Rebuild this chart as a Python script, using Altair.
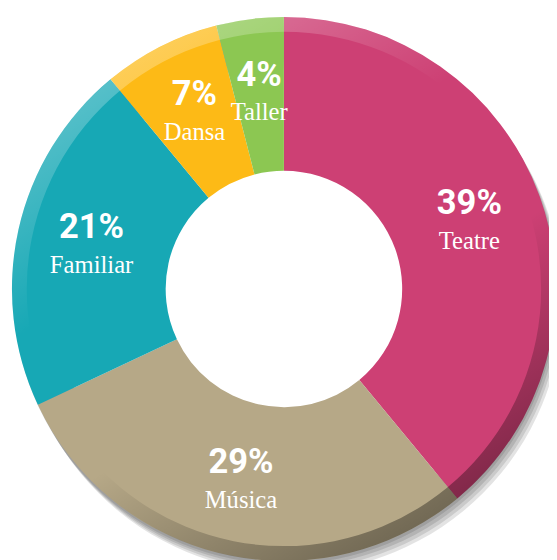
import altair as alt
import pandas as pd

categories = ["Teatre", "Música", "Familiar", "Dansa", "Taller"]
values = [39, 29, 21, 7, 4]
pct_labels = ["39%", "29%", "21%", "7%", "4%"]
colors = ["#CD4074", "#B6A887", "#17A8B5", "#FDBA16", "#8CC752"]

df = pd.DataFrame({
    "cat": categories,
    "value": values,
    "pct": pct_labels,
    "order": list(range(len(categories))),
})

CX, CY = 280, 281
R_OUT, R_IN = 276, 120

base = alt.Chart(df).encode(
    theta=alt.Theta("value:Q", stack=True),
    order=alt.Order("order:Q"),
)

ring_df = pd.DataFrame({"a": [0]})

shadows = [
    alt.Chart(ring_df).mark_arc(
        x=CX + ox, y=CY + oy, radius=R_OUT, radius2=R_OUT - 40,
        theta=0, theta2=6.2832, fill="#000000", opacity=0.11,
    ).encode(stroke=alt.value(None))
    for ox, oy in ((1, 3), (3, 6), (5, 9), (7, 12))
]

arcs = base.mark_arc(x=CX, y=CY, radius=R_OUT, radius2=R_IN).encode(
    color=alt.Color("cat:N", scale=alt.Scale(domain=categories, range=colors), legend=None)
)

rim = alt.Chart(ring_df).mark_arc(
    x=CX, y=CY, radius=R_OUT, radius2=R_OUT - 15, theta=0, theta2=6.2832,
    fill=alt.Gradient(
        gradient="linear",
        x1=0.2, y1=0.0, x2=0.8, y2=1.0,
        stops=[
            alt.GradientStop(color="rgba(255,255,255,0.35)", offset=0),
            alt.GradientStop(color="rgba(255,255,255,0)", offset=0.35),
            alt.GradientStop(color="rgba(0,0,0,0)", offset=0.6),
            alt.GradientStop(color="rgba(0,0,0,0.25)", offset=0.82),
            alt.GradientStop(color="rgba(0,0,0,0.45)", offset=1),
        ],
    ),
).encode(stroke=alt.value(None))

pct_text = base.mark_text(
    x=CX, y=CY, radius=200, dy=-19, font="Roboto", fontWeight="bold",
    fontSize=35, fill="white", baseline="middle", align="center",
).encode(text="pct:N")

name_text = base.mark_text(
    x=CX, y=CY, radius=200, dy=19, font="Liberation Serif",
    fontSize=25, fill="white", baseline="middle", align="center",
).encode(text="cat:N")

chart = alt.layer(*shadows, arcs, rim, pct_text, name_text).properties(
    width=549, height=552,
    autosize=alt.AutoSizeParams(type="none"),
    padding=0,
).configure_view(stroke=None)

chart.save("out.html", embed_options={"renderer": "svg", "actions": False})
